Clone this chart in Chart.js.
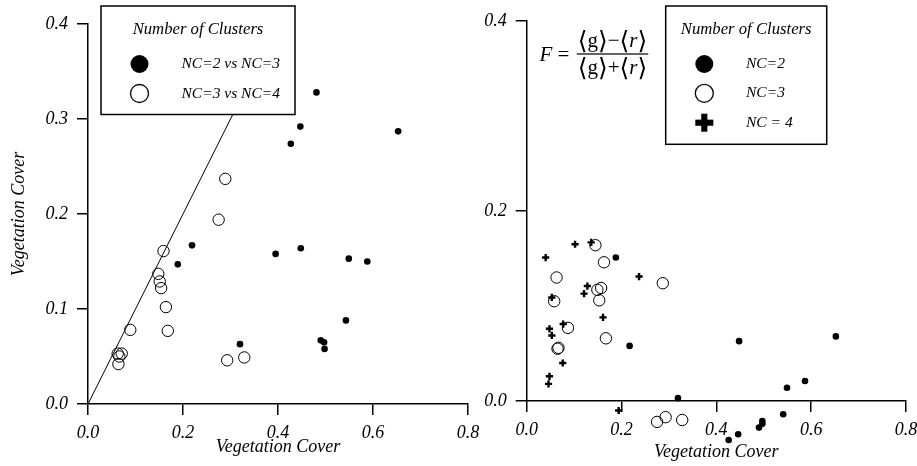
<!DOCTYPE html>
<html>
<head>
<meta charset="utf-8">
<script src="https://cdn.jsdelivr.net/npm/chart.js@4"></script>
<style>
html, body { margin:0; padding:0; background:#fff; width:917px; height:466px; overflow:hidden; }
#leftChart { position:absolute; left:0; top:0; }
#rightChart { position:absolute; left:460px; top:0; }
</style>
</head>
<body>
<canvas id="leftChart" width="500" height="466"></canvas>
<canvas id="rightChart" width="480" height="466"></canvas>
<script>
// left panel: NC=2 vs NC=3 (filled) and NC=3 vs NC=4 (open)
const nc23X = [0.481, 0.447, 0.427, 0.653, 0.219, 0.189, 0.395, 0.448, 0.549, 0.588, 0.320, 0.543, 0.490, 0.497, 0.498];
const nc23Y = [0.328, 0.292, 0.274, 0.287, 0.167, 0.147, 0.158, 0.164, 0.153, 0.150, 0.063, 0.088, 0.067, 0.065, 0.058];
const nc34X = [0.289, 0.275, 0.159, 0.148, 0.151, 0.154, 0.164, 0.168, 0.089, 0.0625, 0.071, 0.066, 0.064, 0.293, 0.329];
const nc34Y = [0.237, 0.194, 0.161, 0.137, 0.129, 0.122, 0.102, 0.077, 0.078, 0.053, 0.053, 0.050, 0.042, 0.046, 0.049];
const diagX = [0, 0.4];
const diagY = [0, 0.4];

// right panel: NC=2, NC=3, NC=4
const nc2X = [0.188, 0.217, 0.448, 0.652, 0.587, 0.549, 0.319, 0.541, 0.497, 0.497, 0.490, 0.446, 0.426];
const nc2Y = [0.151, 0.058, 0.063, 0.068, 0.021, 0.014, 0.003, -0.014, -0.021, -0.024, -0.028, -0.035, -0.041];
const nc3X = [0.145, 0.163, 0.063, 0.287, 0.157, 0.149, 0.153, 0.058, 0.087, 0.167, 0.065, 0.067, 0.275, 0.293, 0.328];
const nc3Y = [0.164, 0.146, 0.130, 0.124, 0.119, 0.117, 0.106, 0.105, 0.077, 0.066, 0.055, 0.056, -0.022, -0.017, -0.020];
const nc4X = [0.102, 0.136, 0.040, 0.237, 0.128, 0.121, 0.053, 0.161, 0.077, 0.048, 0.053, 0.076, 0.048, 0.046, 0.194];
const nc4Y = [0.165, 0.167, 0.151, 0.131, 0.121, 0.113, 0.109, 0.088, 0.081, 0.076, 0.069, 0.040, 0.026, 0.018, -0.010];

const xTitle = 'Vegetation Cover';
const yTitle = 'Vegetation Cover';

const serif = '"Liberation Serif", "Times New Roman", serif';

function pts(xs, ys) {
	return xs.map((x, i) => ({x: x, y: ys[i]}));
}

function makeScale(min, max, step, size, pad, title, titlePad) {
	return {
		type: 'linear',
		min: min,
		max: max,
		ticks: {
			stepSize: step,
			color: '#000',
			padding: pad,
			font: {family: serif, size: 18, style: 'italic'},
			callback: v => v.toFixed(1)
		},
		grid: {drawOnChartArea: false, drawTicks: true, tickLength: 11, color: '#000', lineWidth: 1.5},
		border: {display: true, color: '#000', width: 1.5},
		title: title ? {
			display: true,
			text: title,
			color: '#000',
			font: {family: serif, size: 18, style: 'italic'},
			padding: titlePad
		} : {display: false},
		afterFit: s => {
			if (s.isHorizontal()) s.height = size; else s.width = size;
		}
	};
}

function drawMarker(ctx, kind, x, y, r) {
	ctx.save();
	ctx.fillStyle = '#000';
	ctx.strokeStyle = '#000';
	if (kind === 'filled') {
		ctx.beginPath();
		ctx.arc(x, y, r, 0, Math.PI * 2);
		ctx.fill();
	} else if (kind === 'open') {
		ctx.lineWidth = 1.3;
		ctx.beginPath();
		ctx.arc(x, y, r, 0, Math.PI * 2);
		ctx.stroke();
	} else {
		let t = r * 0.34;
		ctx.fillRect(x - r, y - t, 2 * r, 2 * t);
		ctx.fillRect(x - t, y - r, 2 * t, 2 * r);
	}
	ctx.restore();
}

// points that fall below the x axis are still drawn (the plot lets them spill out)
const spillPoints = {
	id: 'spillPoints',
	afterDatasetsDraw(chart) {
		let a = chart.chartArea;
		let full = {left: 0, top: 0, right: chart.width, bottom: chart.height};
		chart.data.datasets.forEach((ds, i) => {
			let meta = chart.getDatasetMeta(i);
			if (meta.type === 'line' && ds.showLine !== false && ds.type === 'line') return;
			meta.data.forEach(el => {
				if (el.y > a.bottom || el.y < a.top || el.x < a.left || el.x > a.right) {
					el.draw(chart.ctx, full);
				}
			});
		});
	}
};

// legend box with a title, drawn from the dataset labels
const boxLegend = {
	id: 'boxLegend',
	afterDraw(chart, args, o) {
		let ctx = chart.ctx;
		ctx.save();
		ctx.fillStyle = '#fff';
		ctx.fillRect(o.x, o.y, o.w, o.h);
		ctx.strokeStyle = '#000';
		ctx.lineWidth = 1.5;
		ctx.strokeRect(o.x, o.y, o.w, o.h);
		ctx.fillStyle = '#000';
		ctx.textBaseline = 'middle';
		ctx.textAlign = 'center';
		ctx.font = 'italic 16.7px ' + serif;
		ctx.fillText('Number of Clusters', o.x + o.w / 2, o.titleY);
		ctx.textAlign = 'left';
		ctx.font = 'italic 15.5px ' + serif;
		let row = 0;
		chart.data.datasets.forEach(ds => {
			if (!ds.kind) return;
			let y = o.rowY[row++];
			drawMarker(ctx, ds.kind, o.markerX, y, 9);
			ctx.fillText(ds.label, o.textX, y);
		});
		ctx.restore();
	}
};

// formula in the right panel
const formula = {
	id: 'formula',
	afterDraw(chart, args, o) {
		if (!o.show) return;
		let ctx = chart.ctx;
		ctx.save();
		ctx.fillStyle = '#000';
		ctx.textBaseline = 'alphabetic';
		const fonts = {
			u: '21px ' + serif,
			i: 'italic 21px ' + serif,
			b: '25px "DejaVu Serif", ' + serif
		};
		function segs(list, cx, base) {
			let w = 0;
			list.forEach(s => { ctx.font = fonts[s[1]]; w += ctx.measureText(s[0]).width; });
			let x = cx - w / 2;
			list.forEach(s => {
				ctx.font = fonts[s[1]];
				ctx.textAlign = 'left';
				ctx.fillText(s[0], x, base + (s[1] === 'b' ? 1.5 : 0));
				x += ctx.measureText(s[0]).width;
			});
			return w;
		}
		segs([['F', 'i'], [' = ', 'u']], o.x, o.y + 7);
		let num = [['\u27E8', 'b'], ['g', 'u'], ['\u27E9', 'b'], ['\u2212', 'u'], ['\u27E8', 'b'], ['r', 'i'], ['\u27E9', 'b']];
		let den = [['\u27E8', 'b'], ['g', 'u'], ['\u27E9', 'b'], ['+', 'u'], ['\u27E8', 'b'], ['r', 'i'], ['\u27E9', 'b']];
		let fx = o.fracX;
		segs(num, fx, o.y - 7);
		let w = segs(den, fx, o.y + 20);
		ctx.fillRect(fx - w / 2 - 1, o.y - 0.6, w + 2, 1.2);
		ctx.restore();
	}
};

let leftChart = new Chart(document.getElementById('leftChart'), {
	type: 'scatter',
	data: {
		datasets: [
			{
				type: 'line',
				data: pts(diagX, diagY),
				borderColor: '#000',
				borderWidth: 1,
				pointRadius: 0,
				fill: false
			},
			{
				label: 'NC=2 vs NC=3',
				kind: 'filled',
				data: pts(nc23X, nc23Y),
				pointRadius: 3.3,
				backgroundColor: '#000',
				borderColor: '#000',
				borderWidth: 0
			},
			{
				label: 'NC=3 vs NC=4',
				kind: 'open',
				data: pts(nc34X, nc34Y),
				pointRadius: 5.7,
				backgroundColor: 'rgba(0,0,0,0)',
				borderColor: '#000',
				borderWidth: 1
			}
		]
	},
	options: {
		responsive: false,
		animation: false,
		layout: {padding: {top: 24, right: 32, left: 0, bottom: 0}},
		scales: {
			x: makeScale(0, 0.8, 0.2, 62, 7, xTitle, {top: 0, bottom: 8}),
			y: makeScale(0, 0.4, 0.1, 88, 9, yTitle, {top: 8, bottom: 0})
		},
		plugins: {
			legend: {display: false},
			tooltip: {enabled: false},
			boxLegend: {x: 101, y: 6, w: 194, h: 108.5, titleY: 30, rowY: [64, 93.5], markerX: 139.5, textX: 181.5},
			formula: {show: false}
		}
	},
	plugins: [boxLegend, formula]
});

let rightChart = new Chart(document.getElementById('rightChart'), {
	type: 'scatter',
	data: {
		datasets: [
			{
				label: 'NC=2',
				kind: 'filled',
				data: pts(nc2X, nc2Y),
				pointRadius: 3.3,
				backgroundColor: '#000',
				borderColor: '#000',
				borderWidth: 0,
				clip: false
			},
			{
				label: 'NC=3',
				kind: 'open',
				data: pts(nc3X, nc3Y),
				pointRadius: 5.7,
				backgroundColor: 'rgba(0,0,0,0)',
				borderColor: '#000',
				borderWidth: 1,
				clip: false
			},
			{
				label: 'NC = 4',
				kind: 'cross',
				data: pts(nc4X, nc4Y),
				pointStyle: 'cross',
				pointRadius: 3.6,
				borderColor: '#000',
				borderWidth: 2.4,
				clip: false
			}
		]
	},
	options: {
		responsive: false,
		animation: false,
		layout: {padding: {top: 21, right: 34, left: 0, bottom: 0}},
		scales: {
			x: makeScale(0, 0.8, 0.2, 65, 7, xTitle, {top: 0, bottom: 3}),
			y: makeScale(0, 0.4, 0.2, 66.7, 9, null, null)
		},
		plugins: {
			legend: {display: false},
			tooltip: {enabled: false},
			boxLegend: {x: 205.7, y: 6, w: 161, h: 138.3, titleY: 30, rowY: [64, 93.3, 122.7], markerX: 244.3, textX: 286},
			formula: {show: true, x: 97, y: 54, fracX: 152.5}
		}
	},
	plugins: [spillPoints, boxLegend, formula]
});
</script>
</body>
</html>
